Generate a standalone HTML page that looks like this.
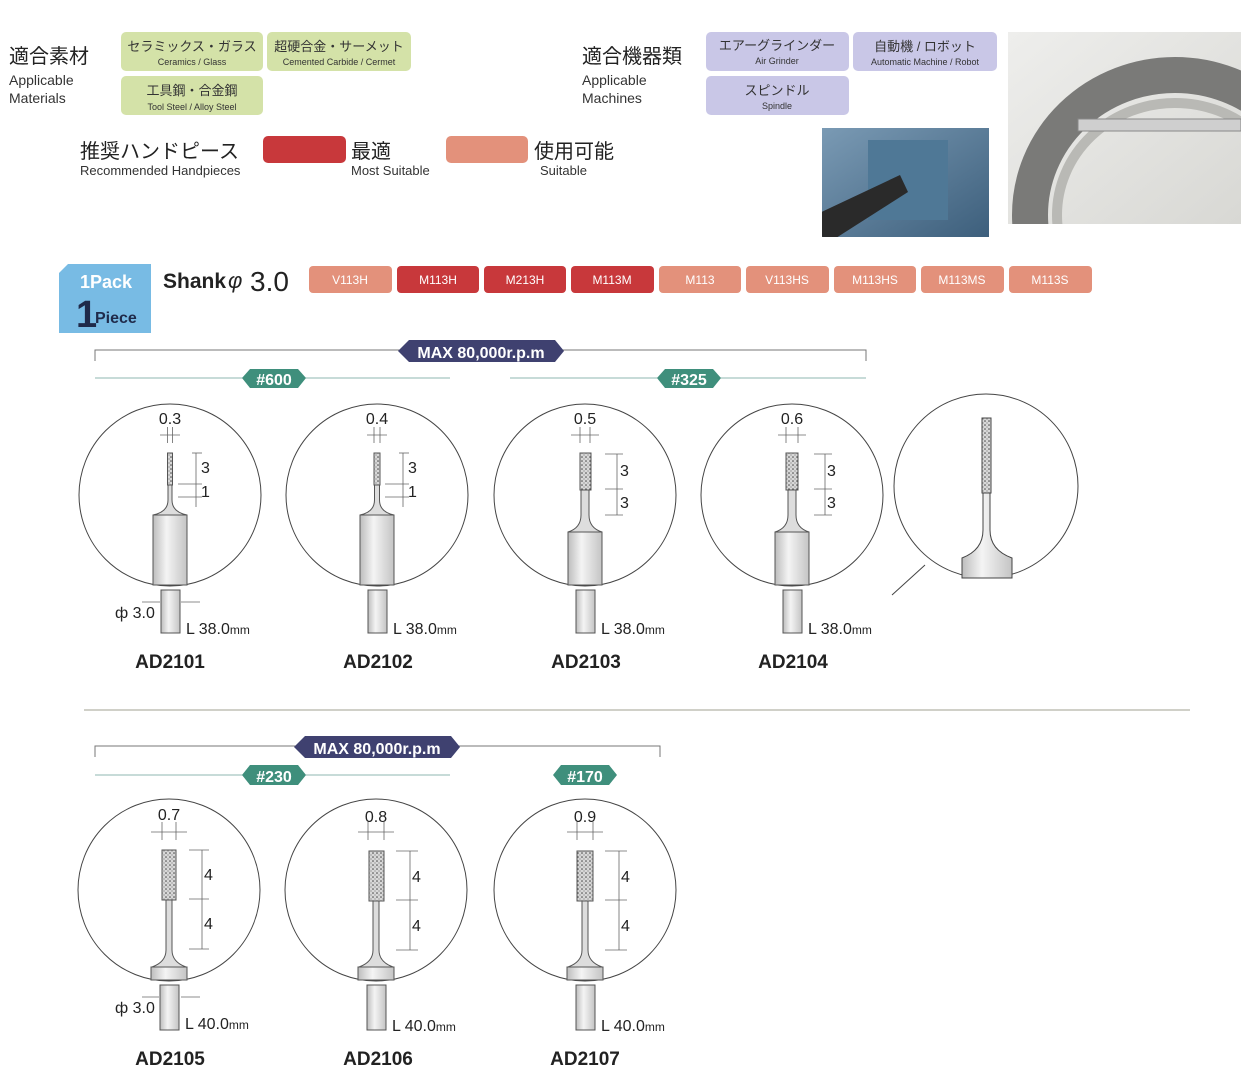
<!DOCTYPE html>
<html><head><meta charset="utf-8"><style>
body{margin:0;background:#fff;}
svg{display:block}
text{font-family:"Liberation Sans","Noto Sans CJK JP",sans-serif;}
</style></head><body>
<svg width="1243" height="1075" viewBox="0 0 1243 1075" xmlns="http://www.w3.org/2000/svg">
<defs>
<pattern id="dots" width="4" height="4" patternUnits="userSpaceOnUse"><rect width="4" height="4" fill="#d8d8d8"/><circle cx="1" cy="1" r="0.8" fill="#444"/><circle cx="3" cy="3" r="0.6" fill="#777"/></pattern>
<linearGradient id="sh" x1="0" x2="1"><stop offset="0" stop-color="#bdbdbd"/><stop offset="0.4" stop-color="#f4f4f4"/><stop offset="1" stop-color="#c4c4c4"/></linearGradient>
<linearGradient id="ph1" x1="0" y1="0" x2="1" y2="1"><stop offset="0" stop-color="#eeeeec"/><stop offset="1" stop-color="#d8d8d4"/></linearGradient>
<linearGradient id="ph2" x1="0" y1="0" x2="1" y2="1"><stop offset="0" stop-color="#7a9ab4"/><stop offset="1" stop-color="#3d5f7c"/></linearGradient>
<clipPath id="c1"><rect x="1008" y="32" width="233" height="192"/></clipPath>
<clipPath id="c2"><rect x="822" y="128" width="167" height="109"/></clipPath>
</defs>

<text x="9" y="63" font-size="20" fill="#222">適合素材</text>
<text x="9" y="85" font-size="14" fill="#333">Applicable</text>
<text x="9" y="103" font-size="14" fill="#333">Materials</text>
<rect x="121" y="32" width="142" height="39" rx="5" fill="#d4e2a8"/>
<text x="192" y="51" font-size="13" fill="#333" text-anchor="middle">セラミックス・ガラス</text>
<text x="192" y="65" font-size="9" fill="#333" text-anchor="middle">Ceramics / Glass</text>
<rect x="267" y="32" width="144" height="39" rx="5" fill="#d4e2a8"/>
<text x="339" y="51" font-size="13" fill="#333" text-anchor="middle">超硬合金・サーメット</text>
<text x="339" y="65" font-size="9" fill="#333" text-anchor="middle">Cemented Carbide / Cermet</text>
<rect x="121" y="76" width="142" height="39" rx="5" fill="#d4e2a8"/>
<text x="192" y="95" font-size="13" fill="#333" text-anchor="middle">工具鋼・合金鋼</text>
<text x="192" y="110" font-size="9" fill="#333" text-anchor="middle">Tool Steel / Alloy Steel</text>

<text x="582" y="63" font-size="20" fill="#222">適合機器類</text>
<text x="582" y="85" font-size="14" fill="#333">Applicable</text>
<text x="582" y="103" font-size="14" fill="#333">Machines</text>
<rect x="706" y="32" width="143" height="39" rx="5" fill="#c9c7e7"/>
<text x="777" y="50" font-size="13" fill="#333" text-anchor="middle">エアーグラインダー</text>
<text x="777" y="64" font-size="9" fill="#333" text-anchor="middle">Air Grinder</text>
<rect x="853" y="32" width="144" height="39" rx="5" fill="#c9c7e7"/>
<text x="925" y="51" font-size="13" fill="#333" text-anchor="middle">自動機 / ロボット</text>
<text x="925" y="65" font-size="9" fill="#333" text-anchor="middle">Automatic Machine / Robot</text>
<rect x="706" y="76" width="143" height="39" rx="5" fill="#c9c7e7"/>
<text x="777" y="95" font-size="13" fill="#333" text-anchor="middle">スピンドル</text>
<text x="777" y="109" font-size="9" fill="#333" text-anchor="middle">Spindle</text>

<g clip-path="url(#c1)">
<rect x="1008" y="32" width="233" height="192" fill="url(#ph1)"/>
<ellipse cx="1175" cy="215" rx="145" ry="140" fill="none" stroke="#7a7a78" stroke-width="36"/>
<ellipse cx="1175" cy="215" rx="118" ry="112" fill="none" stroke="#b9b9b5" stroke-width="10"/>
<rect x="1078" y="119" width="163" height="12" fill="#cfcfcf" stroke="#888"/>
</g>
<g clip-path="url(#c2)">
<rect x="822" y="128" width="167" height="109" fill="url(#ph2)"/>
<rect x="868" y="140" width="80" height="80" fill="#4f7896"/>
<path d="M815 215 L900 175 L908 192 L825 245 Z" fill="#2a2a2a"/>
</g>

<text x="80" y="158" font-size="20" fill="#222">推奨ハンドピース</text>
<text x="80" y="175" font-size="13" fill="#333">Recommended Handpieces</text>
<rect x="263" y="136" width="83" height="27" rx="5" fill="#c8383b"/>
<text x="351" y="158" font-size="20" fill="#222">最適</text>
<text x="351" y="175" font-size="13" fill="#333">Most Suitable</text>
<rect x="446" y="136" width="82" height="27" rx="5" fill="#e3917b"/>
<text x="534" y="158" font-size="20" fill="#222">使用可能</text>
<text x="540" y="175" font-size="13" fill="#333">Suitable</text>

<path d="M68 264 L151 264 L151 333 L59 333 L59 273 Z" fill="#78bbe4"/>
<text x="80" y="288" font-size="18" fill="#fff" font-weight="bold">1Pack</text>
<text x="76" y="327" font-size="38" fill="#1f2a4a" font-weight="bold">1</text>
<text x="95" y="323" font-size="16" fill="#1f2a4a" font-weight="bold">Piece</text>
<text x="163" y="288" font-size="21" fill="#222" font-weight="bold">Shank</text>
<text x="228" y="288" font-size="22" fill="#222" font-style="italic">φ</text>
<text x="250" y="291" font-size="28" fill="#222">3.0</text>

<g font-size="12" fill="#fff" text-anchor="middle">
<rect x="309" y="266" width="83" height="27" rx="4" fill="#e3917b"/><text x="350" y="284">V113H</text>
<rect x="397" y="266" width="82" height="27" rx="4" fill="#c8383b"/><text x="438" y="284">M113H</text>
<rect x="484" y="266" width="82" height="27" rx="4" fill="#c8383b"/><text x="525" y="284">M213H</text>
<rect x="571" y="266" width="83" height="27" rx="4" fill="#c8383b"/><text x="612" y="284">M113M</text>
<rect x="659" y="266" width="82" height="27" rx="4" fill="#e3917b"/><text x="700" y="284">M113</text>
<rect x="746" y="266" width="83" height="27" rx="4" fill="#e3917b"/><text x="787" y="284">V113HS</text>
<rect x="834" y="266" width="82" height="27" rx="4" fill="#e3917b"/><text x="875" y="284">M113HS</text>
<rect x="921" y="266" width="83" height="27" rx="4" fill="#e3917b"/><text x="962" y="284">M113MS</text>
<rect x="1009" y="266" width="83" height="27" rx="4" fill="#e3917b"/><text x="1050" y="284">M113S</text>
</g>

<path d="M95 361 V350 H866 V361" fill="none" stroke="#777" stroke-width="1"/>
<path d="M409 340 H555 L564 351 L555 362 H409 L398 351 Z" fill="#3f4170"/>
<text x="481" y="358" font-size="16" fill="#fff" text-anchor="middle" font-weight="bold">MAX 80,000r.p.m</text>
<line x1="95" y1="378" x2="450" y2="378" stroke="#8fb7b0"/>
<line x1="510" y1="378" x2="866" y2="378" stroke="#8fb7b0"/>
<path d="M250 369 H298 L306 378 L298 388 H250 L242 378 Z" fill="#3f8f7c"/>
<text x="274" y="385" font-size="16" fill="#fff" text-anchor="middle" font-weight="bold">#600</text>
<path d="M665 369 H713 L721 378 L713 388 H665 L657 378 Z" fill="#3f8f7c"/>
<text x="689" y="385" font-size="16" fill="#fff" text-anchor="middle" font-weight="bold">#325</text>

<g stroke="#444" stroke-width="1">
<circle cx="170" cy="495" r="91" fill="#fff"/>
<circle cx="377" cy="495" r="91" fill="#fff"/>
<circle cx="585" cy="495" r="91" fill="#fff"/>
<circle cx="792" cy="495" r="91" fill="#fff"/>
<circle cx="986" cy="486" r="92" fill="#fff"/>
</g>

<g transform="translate(170,0)" stroke="#555" stroke-width="1">
<rect x="-2.5" y="453" width="5" height="32" fill="url(#dots)"/>
<path d="M-2 485 V500 Q-2 512 -17 515 H17 Q2 512 2 500 V485 Z" fill="#ddd"/>
<rect x="-17" y="515" width="34" height="70" fill="url(#sh)"/>
<rect x="-9" y="590" width="19" height="43" fill="url(#sh)"/>
<g stroke="#666" stroke-width="0.8" fill="none">
<line x1="-2.5" y1="427" x2="-2.5" y2="443"/><line x1="2.5" y1="427" x2="2.5" y2="443"/>
<line x1="-10" y1="435" x2="10" y2="435"/>
<line x1="22" y1="453" x2="32" y2="453"/><line x1="8" y1="484" x2="32" y2="484"/><line x1="8" y1="497" x2="32" y2="497"/>
<line x1="26" y1="453" x2="26" y2="507"/>
</g>
</g>
<g transform="translate(377,0)" stroke="#555" stroke-width="1">
<rect x="-3" y="453" width="6" height="32" fill="url(#dots)"/>
<path d="M-2.5 485 V500 Q-2.5 512 -17 515 H17 Q2.5 512 2.5 500 V485 Z" fill="#ddd"/>
<rect x="-17" y="515" width="34" height="70" fill="url(#sh)"/>
<rect x="-9" y="590" width="19" height="43" fill="url(#sh)"/>
<g stroke="#666" stroke-width="0.8" fill="none">
<line x1="-3" y1="427" x2="-3" y2="443"/><line x1="3" y1="427" x2="3" y2="443"/>
<line x1="-10" y1="435" x2="10" y2="435"/>
<line x1="22" y1="453" x2="32" y2="453"/><line x1="8" y1="484" x2="32" y2="484"/><line x1="8" y1="497" x2="32" y2="497"/>
<line x1="26" y1="453" x2="26" y2="507"/>
</g>
</g>
<g transform="translate(585,0)" stroke="#555" stroke-width="1">
<rect x="-5" y="453" width="11" height="37" fill="url(#dots)"/>
<path d="M-4 490 V515 Q-4 528 -17 532 H17 Q4 528 4 515 V490 Z" fill="#ddd"/>
<rect x="-17" y="532" width="34" height="53" fill="url(#sh)"/>
<rect x="-9" y="590" width="19" height="43" fill="url(#sh)"/>
<g stroke="#666" stroke-width="0.8" fill="none">
<line x1="-5" y1="427" x2="-5" y2="443"/><line x1="5" y1="427" x2="5" y2="443"/>
<line x1="-14" y1="435" x2="14" y2="435"/>
<line x1="20" y1="454" x2="38" y2="454"/><line x1="20" y1="489" x2="38" y2="489"/><line x1="20" y1="515" x2="38" y2="515"/>
<line x1="32" y1="454" x2="32" y2="515"/>
</g>
</g>
<g transform="translate(792,0)" stroke="#555" stroke-width="1">
<rect x="-6" y="453" width="12" height="37" fill="url(#dots)"/>
<path d="M-4 490 V515 Q-4 528 -17 532 H17 Q4 528 4 515 V490 Z" fill="#ddd"/>
<rect x="-17" y="532" width="34" height="53" fill="url(#sh)"/>
<rect x="-9" y="590" width="19" height="43" fill="url(#sh)"/>
<g stroke="#666" stroke-width="0.8" fill="none">
<line x1="-6" y1="427" x2="-6" y2="443"/><line x1="6" y1="427" x2="6" y2="443"/>
<line x1="-14" y1="435" x2="14" y2="435"/>
<line x1="22" y1="454" x2="40" y2="454"/><line x1="22" y1="489" x2="40" y2="489"/><line x1="22" y1="515" x2="40" y2="515"/>
<line x1="33" y1="454" x2="33" y2="515"/>
</g>
</g>
<g stroke="#444" stroke-width="1">
<rect x="982" y="418" width="9" height="75" fill="url(#dots)"/>
<path d="M983 493 V530 Q983 550 962 558 V578 H1012 V558 Q990 550 990 530 V493 Z" fill="url(#sh)"/>
<line x1="892" y1="595" x2="925" y2="565"/>
</g>

<g font-size="16" fill="#222">
<text x="170" y="424" text-anchor="middle">0.3</text><text x="201" y="473">3</text><text x="201" y="497">1</text>
<text x="377" y="424" text-anchor="middle">0.4</text><text x="408" y="473">3</text><text x="408" y="497">1</text>
<text x="585" y="424" text-anchor="middle">0.5</text><text x="620" y="476">3</text><text x="620" y="508">3</text>
<text x="792" y="424" text-anchor="middle">0.6</text><text x="827" y="476">3</text><text x="827" y="508">3</text>
<text x="115" y="618">ф 3.0</text>
<text x="186" y="634">L 38.0<tspan font-size="12">mm</tspan></text>
<text x="393" y="634">L 38.0<tspan font-size="12">mm</tspan></text>
<text x="601" y="634">L 38.0<tspan font-size="12">mm</tspan></text>
<text x="808" y="634">L 38.0<tspan font-size="12">mm</tspan></text>
</g>
<g stroke="#666" stroke-width="0.8"><line x1="142" y1="602" x2="160" y2="602"/><line x1="181" y1="602" x2="200" y2="602"/></g>
<g font-size="19" font-weight="bold" fill="#222" text-anchor="middle">
<text x="170" y="668">AD2101</text><text x="378" y="668">AD2102</text><text x="586" y="668">AD2103</text><text x="793" y="668">AD2104</text>
</g>

<line x1="84" y1="710" x2="1190" y2="710" stroke="#d0d0c8" stroke-width="2"/>

<path d="M95 757 V746 H660 V757" fill="none" stroke="#777"/>
<path d="M305 736 H451 L460 747 L451 758 H305 L294 747 Z" fill="#3f4170"/>
<text x="377" y="754" font-size="16" fill="#fff" text-anchor="middle" font-weight="bold">MAX 80,000r.p.m</text>
<line x1="95" y1="775" x2="450" y2="775" stroke="#8fb7b0"/>
<path d="M250 765 H298 L306 775 L298 785 H250 L242 775 Z" fill="#3f8f7c"/>
<text x="274" y="782" font-size="16" fill="#fff" text-anchor="middle" font-weight="bold">#230</text>
<path d="M561 765 H609 L617 775 L609 785 H561 L553 775 Z" fill="#3f8f7c"/>
<text x="585" y="782" font-size="16" fill="#fff" text-anchor="middle" font-weight="bold">#170</text>

<g stroke="#444" stroke-width="1">
<circle cx="169" cy="890" r="91" fill="#fff"/>
<circle cx="376" cy="890" r="91" fill="#fff"/>
<circle cx="585" cy="890" r="91" fill="#fff"/>
</g>
<g transform="translate(169,0)" stroke="#555" stroke-width="1">
<rect x="-7" y="850" width="14" height="50" fill="url(#dots)"/>
<path d="M-3 900 V950 Q-3 962 -17 967 H17 Q3 962 3 950 V900 Z" fill="#ddd"/>
<rect x="-18" y="967" width="36" height="13" fill="url(#sh)"/>
<rect x="-9" y="985" width="19" height="45" fill="url(#sh)"/>
<g stroke="#666" stroke-width="0.8" fill="none">
<line x1="-7" y1="822" x2="-7" y2="840"/><line x1="7" y1="822" x2="7" y2="840"/>
<line x1="-18" y1="832" x2="18" y2="832"/>
<line x1="20" y1="850" x2="40" y2="850"/><line x1="20" y1="899" x2="40" y2="899"/><line x1="20" y1="949" x2="40" y2="949"/>
<line x1="33" y1="850" x2="33" y2="949"/>
</g>
</g>
<g transform="translate(376,0)" stroke="#555" stroke-width="1">
<rect x="-7" y="851" width="15" height="50" fill="url(#dots)"/>
<path d="M-3 901 V950 Q-3 962 -17 967 H17 Q3 962 3 950 V901 Z" fill="#ddd"/>
<rect x="-18" y="967" width="36" height="13" fill="url(#sh)"/>
<rect x="-9" y="985" width="19" height="45" fill="url(#sh)"/>
<g stroke="#666" stroke-width="0.8" fill="none">
<line x1="-8" y1="822" x2="-8" y2="840"/><line x1="8" y1="822" x2="8" y2="840"/>
<line x1="-18" y1="832" x2="18" y2="832"/>
<line x1="20" y1="851" x2="42" y2="851"/><line x1="20" y1="900" x2="42" y2="900"/><line x1="20" y1="950" x2="42" y2="950"/>
<line x1="34" y1="851" x2="34" y2="950"/>
</g>
</g>
<g transform="translate(585,0)" stroke="#555" stroke-width="1">
<rect x="-8" y="851" width="16" height="50" fill="url(#dots)"/>
<path d="M-3 901 V950 Q-3 962 -17 967 H17 Q3 962 3 950 V901 Z" fill="#ddd"/>
<rect x="-18" y="967" width="36" height="13" fill="url(#sh)"/>
<rect x="-9" y="985" width="19" height="45" fill="url(#sh)"/>
<g stroke="#666" stroke-width="0.8" fill="none">
<line x1="-8" y1="822" x2="-8" y2="840"/><line x1="8" y1="822" x2="8" y2="840"/>
<line x1="-18" y1="832" x2="18" y2="832"/>
<line x1="20" y1="851" x2="42" y2="851"/><line x1="20" y1="900" x2="42" y2="900"/><line x1="20" y1="950" x2="42" y2="950"/>
<line x1="34" y1="851" x2="34" y2="950"/>
</g>
</g>
<g font-size="16" fill="#222">
<text x="169" y="820" text-anchor="middle">0.7</text><text x="204" y="880">4</text><text x="204" y="929">4</text>
<text x="376" y="822" text-anchor="middle">0.8</text><text x="412" y="882">4</text><text x="412" y="931">4</text>
<text x="585" y="822" text-anchor="middle">0.9</text><text x="621" y="882">4</text><text x="621" y="931">4</text>
<text x="115" y="1013">ф 3.0</text>
<text x="185" y="1029">L 40.0<tspan font-size="12">mm</tspan></text>
<text x="392" y="1031">L 40.0<tspan font-size="12">mm</tspan></text>
<text x="601" y="1031">L 40.0<tspan font-size="12">mm</tspan></text>
</g>
<g stroke="#666" stroke-width="0.8"><line x1="142" y1="997" x2="159" y2="997"/><line x1="181" y1="997" x2="200" y2="997"/></g>
<g font-size="19" font-weight="bold" fill="#222" text-anchor="middle">
<text x="170" y="1065">AD2105</text><text x="378" y="1065">AD2106</text><text x="585" y="1065">AD2107</text>
</g>
</svg>
</body></html>
